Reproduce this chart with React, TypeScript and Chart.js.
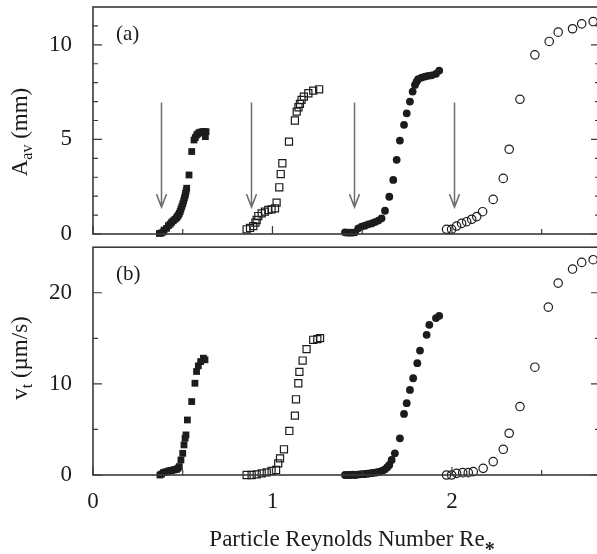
import { useEffect, useRef } from 'react';
import { Chart, registerables } from 'chart.js';

Chart.register(...registerables);

// ---- Panel (a): average amplitude A_av (mm) versus particle Reynolds number ----
const aRe1 = [0.37, 0.38, 0.39, 0.396, 0.41, 0.42, 0.43, 0.438, 0.447, 0.457, 0.465, 0.47, 0.476, 0.481, 0.486, 0.49, 0.495, 0.5, 0.505, 0.509, 0.513, 0.516, 0.519, 0.522, 0.535, 0.55, 0.563, 0.57, 0.578, 0.585, 0.592, 0.6, 0.608, 0.615, 0.622, 0.63, 0.626];
const aAmp1 = [0.03, 0.05, 0.1, 0.21, 0.3, 0.44, 0.52, 0.62, 0.7, 0.78, 0.85, 0.92, 1.0, 1.09, 1.2, 1.32, 1.45, 1.59, 1.74, 1.89, 2.02, 2.15, 2.28, 2.42, 3.12, 4.36, 4.97, 5.1, 5.24, 5.3, 5.36, 5.38, 5.4, 5.41, 5.4, 5.41, 5.15];

const aRe2 = [0.856, 0.875, 0.893, 0.905, 0.912, 0.921, 0.94, 0.958, 0.977, 0.995, 1.014, 1.023, 1.038, 1.046, 1.055, 1.092, 1.125, 1.135, 1.145, 1.153, 1.162, 1.175, 1.2, 1.227, 1.26];
const aAmp2 = [0.25, 0.32, 0.42, 0.6, 0.74, 0.95, 1.09, 1.18, 1.27, 1.3, 1.36, 1.66, 2.47, 3.17, 3.74, 4.88, 6.0, 6.47, 6.7, 6.88, 7.09, 7.26, 7.44, 7.58, 7.65];

const aRe3 = [1.404, 1.422, 1.441, 1.46, 1.478, 1.497, 1.515, 1.534, 1.553, 1.571, 1.59, 1.608, 1.627, 1.651, 1.673, 1.692, 1.71, 1.733, 1.748, 1.766, 1.781, 1.794, 1.803, 1.812, 1.831, 1.85, 1.868, 1.887, 1.911, 1.929];
const aAmp3 = [0.09, 0.07, 0.07, 0.09, 0.3, 0.39, 0.44, 0.51, 0.56, 0.63, 0.71, 0.83, 1.23, 1.97, 2.86, 3.92, 4.94, 5.77, 6.38, 7.0, 7.53, 7.88, 8.05, 8.18, 8.27, 8.32, 8.36, 8.39, 8.47, 8.64];

const aRe4 = [1.97, 1.998, 2.026, 2.054, 2.082, 2.11, 2.138, 2.171, 2.23, 2.286, 2.319, 2.379, 2.462, 2.542, 2.592, 2.672, 2.723, 2.787];
const aAmp4 = [0.25, 0.25, 0.42, 0.56, 0.65, 0.78, 0.92, 1.18, 1.83, 2.94, 4.48, 7.12, 9.47, 10.18, 10.67, 10.85, 11.11, 11.23];

// onset markers (vertical arrows) in panel (a)
const onsetRe = [0.377, 0.878, 1.456, 2.01];
const arrowTopAmp = 6.95;
const arrowTipAmp = 1.42;

// ---- Panel (b): drift velocity v_t (µm/s) versus particle Reynolds number ----
const vRe1 = [0.373, 0.382, 0.392, 0.4, 0.41, 0.42, 0.429, 0.438, 0.448, 0.457, 0.466, 0.474, 0.481, 0.49, 0.5, 0.507, 0.513, 0.518, 0.526, 0.55, 0.568, 0.577, 0.587, 0.6, 0.615, 0.624];
const vVel1 = [0.0, 0.1, 0.26, 0.3, 0.37, 0.42, 0.48, 0.5, 0.55, 0.6, 0.62, 0.75, 0.92, 1.65, 2.38, 3.3, 4.03, 4.4, 6.04, 8.06, 10.07, 11.36, 11.98, 12.45, 12.82, 12.64];

const vRe2 = [0.856, 0.884, 0.912, 0.94, 0.968, 0.995, 1.02, 1.032, 1.042, 1.064, 1.094, 1.125, 1.131, 1.144, 1.15, 1.168, 1.19, 1.227, 1.25, 1.265];
const vVel2 = [0, 0, 0.07, 0.18, 0.29, 0.44, 0.55, 1.28, 1.83, 2.82, 4.83, 6.52, 8.31, 10.07, 11.32, 12.56, 13.81, 14.84, 14.91, 15.02];

const vRe3 = [1.404, 1.418, 1.432, 1.446, 1.46, 1.474, 1.487, 1.501, 1.515, 1.529, 1.543, 1.557, 1.571, 1.585, 1.599, 1.613, 1.627, 1.64, 1.651, 1.664, 1.682, 1.71, 1.733, 1.748, 1.766, 1.784, 1.807, 1.822, 1.859, 1.874, 1.911, 1.929];
const vVel3 = [0, 0, 0, 0.03, 0, 0.05, 0.07, 0.09, 0.11, 0.15, 0.18, 0.22, 0.26, 0.3, 0.37, 0.48, 0.62, 0.85, 1.1, 1.65, 2.38, 4.03, 6.7, 7.88, 9.34, 10.62, 12.27, 13.66, 15.38, 16.48, 17.22, 17.47];

const vRe4 = [1.97, 1.998, 2.026, 2.06, 2.091, 2.119, 2.174, 2.23, 2.286, 2.319, 2.379, 2.462, 2.537, 2.592, 2.672, 2.723, 2.787];
const vVel4 = [0, 0, 0.18, 0.26, 0.26, 0.37, 0.73, 1.47, 2.82, 4.58, 7.51, 11.83, 18.42, 21.06, 22.6, 23.33, 23.63];

// ---- axes ----
const reMin = 0;
const reMax = 2.825;
const reLabels = [0, 1, 2];
const reMinor = [0.5, 1.5, 2.5];
const ampMax = 12;
const ampLabels = [0, 5, 10];
const ampMinor = [1, 2, 3, 4, 6, 7, 8, 9, 11];
const velMax = 25;
const velLabels = [0, 10, 20];
const velMinor = [5, 15];

const FONT = '"Liberation Serif", "Times New Roman", Times, serif';
const INK = '#1c1c1c';
const FRAME = '#3a3a3a';
const ARROW = '#6e6e6e';

type Run = { text: string; size: number; dy: number; weight?: string };

// Draw a line of text made of runs (for subscripts), centred on cx,
// with its baseline at by; optionally rotated to read upward.
function drawRuns(ctx: CanvasRenderingContext2D, runs: Run[], cx: number, by: number, upward: boolean) {
  ctx.save();
  ctx.fillStyle = INK;
  ctx.textBaseline = 'alphabetic';
  ctx.textAlign = 'left';
  let total = 0;
  const fontOf = (r: Run) => `${r.weight ?? 'normal'} ${r.size}px ${FONT}`;
  const widths = runs.map((r) => {
    ctx.font = fontOf(r);
    const w = ctx.measureText(r.text).width;
    total += w;
    return w;
  });
  if (upward) {
    ctx.translate(by, cx);
    ctx.rotate(-Math.PI / 2);
  } else {
    ctx.translate(cx, by);
  }
  let x = -total / 2;
  runs.forEach((r, i) => {
    ctx.font = fontOf(r);
    ctx.fillText(r.text, x, r.dy);
    x += widths[i];
  });
  ctx.restore();
}

type PanelDecor = {
  yMajor: number[];
  yMinor: number[];
  label: string;
  labelBaseline: number;
  yTitle: Run[];
  yTitleCenter: number;
  arrows: boolean;
  xTitle: boolean;
};

function framePlugin(decor: PanelDecor) {
  return {
    id: 'frameDecor',
    beforeDatasetsDraw(chart: any) {
      if (!decor.arrows) return;
      const ctx: CanvasRenderingContext2D = chart.ctx;
      const xs = chart.scales.x;
      const ys = chart.scales.y;
      ctx.save();
      ctx.strokeStyle = ARROW;
      ctx.lineWidth = 1.5;
      onsetRe.forEach((re) => {
        const px = Math.round(xs.getPixelForValue(re)) + 0.5;
        const top = ys.getPixelForValue(arrowTopAmp);
        const tip = ys.getPixelForValue(arrowTipAmp);
        ctx.beginPath();
        ctx.moveTo(px, top);
        ctx.lineTo(px, tip);
        ctx.moveTo(px - 5, tip - 13);
        ctx.lineTo(px, tip);
        ctx.lineTo(px + 5, tip - 13);
        ctx.stroke();
      });
      ctx.restore();
    },
    afterDatasetsDraw(chart: any) {
      const ctx: CanvasRenderingContext2D = chart.ctx;
      const { left, right, top, bottom } = chart.chartArea;
      const xs = chart.scales.x;
      const ys = chart.scales.y;
      ctx.save();
      ctx.strokeStyle = FRAME;
      ctx.lineWidth = 1.6;
      ctx.strokeRect(left, top, right - left, bottom - top);
      ctx.lineWidth = 1.2;
      ctx.beginPath();
      const yTick = (v: number, len: number) => {
        const py = ys.getPixelForValue(v);
        ctx.moveTo(left, py);
        ctx.lineTo(left + len, py);
        ctx.moveTo(right, py);
        ctx.lineTo(right - len, py);
      };
      const xTick = (v: number, len: number) => {
        const px = xs.getPixelForValue(v);
        ctx.moveTo(px, bottom);
        ctx.lineTo(px, bottom - len);
      };
      decor.yMajor.forEach((v) => yTick(v, 9));
      decor.yMinor.forEach((v) => yTick(v, 5));
      reLabels.forEach((v) => xTick(v, 8));
      reMinor.forEach((v) => xTick(v, 5));
      ctx.stroke();
      ctx.restore();

      // panel letter
      ctx.save();
      ctx.fillStyle = INK;
      ctx.font = `21px ${FONT}`;
      ctx.textAlign = 'left';
      ctx.textBaseline = 'alphabetic';
      ctx.fillText(decor.label, 116, decor.labelBaseline);
      ctx.restore();

      // vertical axis title, reading upward
      drawRuns(ctx, decor.yTitle, decor.yTitleCenter, 27, true);

      if (decor.xTitle) {
        drawRuns(
          ctx,
          [
            { text: 'Particle Reynolds Number Re', size: 23, dy: 0 },
            { text: '*', size: 20, dy: 10, weight: 'bold' },
          ],
          352,
          305,
          false,
        );
      }
    },
  };
}

function pts(xs: number[], ys: number[]) {
  return xs.map((x, i) => ({ x, y: ys[i] }));
}

function markerSets(series: { x: number[]; y: number[] }[]) {
  const styles = [
    { pointStyle: 'rect', pointRadius: 4.8, backgroundColor: INK, borderColor: INK, borderWidth: 0 },
    { pointStyle: 'rect', pointRadius: 5.0, backgroundColor: 'rgba(0,0,0,0)', borderColor: INK, borderWidth: 1.2 },
    { pointStyle: 'circle', pointRadius: 3.9, backgroundColor: INK, borderColor: INK, borderWidth: 0 },
    { pointStyle: 'circle', pointRadius: 4.2, backgroundColor: 'rgba(0,0,0,0)', borderColor: INK, borderWidth: 1.2 },
  ];
  return series.map((s, i) => ({
    data: pts(s.x, s.y),
    showLine: false,
    clip: false as any,
    pointHoverRadius: styles[i].pointRadius,
    ...styles[i],
  }));
}

const tickFont = { family: FONT, size: 23 };

// fixed-width value axis that does not pad the plot area for its end labels
function valueAxis(max: number, labels: number[]) {
  return {
    type: 'linear' as const,
    min: 0,
    max,
    grid: { display: false },
    border: { display: false },
    ticks: { font: tickFont, color: INK, padding: 13 },
    afterBuildTicks: (s: any) => {
      s.ticks = labels.map((v) => ({ value: v }));
    },
    afterFit: (s: any) => {
      s.width = 93;
      s.paddingTop = 0;
      s.paddingBottom = 0;
    },
  };
}

function TopPanel() {
  const ref = useRef<HTMLCanvasElement | null>(null);
  useEffect(() => {
    if (!ref.current) return;
    const chart = new Chart(ref.current, {
      type: 'scatter',
      data: {
        datasets: markerSets([
          { x: aRe1, y: aAmp1 },
          { x: aRe2, y: aAmp2 },
          { x: aRe3, y: aAmp3 },
          { x: aRe4, y: aAmp4 },
        ]) as any,
      },
      options: {
        responsive: false,
        maintainAspectRatio: false,
        devicePixelRatio: 1,
        animation: false,
        events: [],
        layout: { padding: { top: 7, bottom: 7, left: 0, right: 10 } },
        plugins: { legend: { display: false }, tooltip: { enabled: false } },
        scales: {
          x: { type: 'linear', min: reMin, max: reMax, display: false },
          y: valueAxis(ampMax, ampLabels) as any,
        },
      },
      plugins: [
        framePlugin({
          yMajor: ampLabels,
          yMinor: ampMinor,
          label: '(a)',
          labelBaseline: 40,
          yTitle: [
            { text: 'A', size: 23, dy: 0 },
            { text: 'av', size: 16, dy: 5 },
            { text: ' (mm)', size: 23, dy: 0 },
          ],
          yTitleCenter: 132,
          arrows: true,
          xTitle: false,
        }),
      ],
    });
    return () => chart.destroy();
  }, []);
  return (
    <canvas ref={ref} width={610} height={241} style={{ position: 'absolute', left: 0, top: 0, display: 'block' }} />
  );
}

function BottomPanel() {
  const ref = useRef<HTMLCanvasElement | null>(null);
  useEffect(() => {
    if (!ref.current) return;
    const chart = new Chart(ref.current, {
      type: 'scatter',
      data: {
        datasets: markerSets([
          { x: vRe1, y: vVel1 },
          { x: vRe2, y: vVel2 },
          { x: vRe3, y: vVel3 },
          { x: vRe4, y: vVel4 },
        ]) as any,
      },
      options: {
        responsive: false,
        maintainAspectRatio: false,
        devicePixelRatio: 1,
        animation: false,
        events: [],
        layout: { padding: { top: 6, bottom: 0, left: 0, right: 10 } },
        plugins: { legend: { display: false }, tooltip: { enabled: false } },
        scales: {
          x: {
            type: 'linear',
            min: reMin,
            max: reMax,
            grid: { display: false },
            border: { display: false },
            ticks: { font: tickFont, color: INK, padding: 5, maxRotation: 0 },
            afterBuildTicks: (s: any) => {
              s.ticks = reLabels.map((v) => ({ value: v }));
            },
            afterFit: (s: any) => {
              s.height = 79;
              s.paddingLeft = 0;
              s.paddingRight = 0;
            },
          },
          y: valueAxis(velMax, velLabels) as any,
        },
      },
      plugins: [
        framePlugin({
          yMajor: velLabels,
          yMinor: velMinor,
          label: '(b)',
          labelBaseline: 39,
          yTitle: [
            { text: 'v', size: 23, dy: 0 },
            { text: 't', size: 16, dy: 5 },
            { text: ' (µm/s)', size: 23, dy: 0 },
          ],
          yTitleCenter: 117,
          arrows: false,
          xTitle: true,
        }),
      ],
    });
    return () => chart.destroy();
  }, []);
  return (
    <canvas ref={ref} width={610} height={313} style={{ position: 'absolute', left: 0, top: 241, display: 'block' }} />
  );
}

export default function App() {
  return (
    <div
      style={{
        position: 'fixed',
        left: 0,
        top: 0,
        width: 597,
        height: 554,
        overflow: 'hidden',
        background: '#ffffff',
      }}
    >
      <TopPanel />
      <BottomPanel />
    </div>
  );
}
